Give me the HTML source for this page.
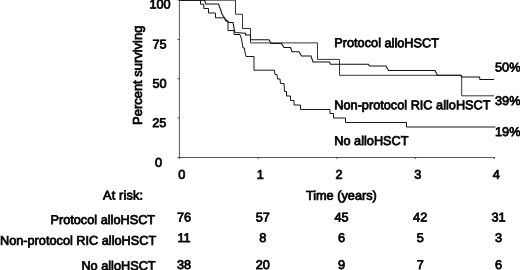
<!DOCTYPE html>
<html><head><meta charset="utf-8"><title>Survival</title>
<style>
html,body{margin:0;padding:0;background:#fff;}
body{width:520px;height:270px;overflow:hidden;position:relative;font-family:"Liberation Sans",Arial,sans-serif;font-size:12.72px;color:#000;}
.t{position:absolute;left:0;top:0;white-space:nowrap;line-height:1;-webkit-text-stroke:0.75px #000;transform-origin:0 0;}
svg{position:absolute;left:0;top:0;}
</style></head><body>
<svg width="520" height="270" viewBox="0 0 520 270" fill="none">
<g stroke="#444" stroke-width="0.9">
<path d="M179.4,0 V159"/>
<path d="M177.5,157.5 H494.6"/>
<path d="M177.5,0.2 H180 M177.5,39.5 H180 M177.5,78.8 H180 M177.5,117.8 H180"/>
<path d="M258.2,157 V159 M336.9,157 V159 M415.6,157 V159 M494.3,157 V159"/>
</g>
<path stroke="#2a2a2a" stroke-width="0.95" d="M179.5,0.2 H235.5 V14.2 H242.5 V28.5 H250.5 V42.9 H317.5 V59.4 H339.5 V75.3 H461.7 V95.8 H494"/>
<path stroke="#111" stroke-width="1.1" d="M179.5,0.2 H204.5 L206,4 H218.5 L220,8 L222,14 L224.5,18 L226.5,20.5 L229,22.5 H233 L234,28 L235,32.6 L245.5,33.3 V35 H250.5 V39.8 H269 L271,43.5 H281.5 L284,47.5 H290.5 L292,51.8 H299 L301.5,56 H311 L313,62 H329.5 L330.5,64.2 H368.5 L369.5,66 H386 L388.5,70.5 H435 L437.5,75.3 H460.5 L461.5,77 H479.5 L480,79.5 H494"/>
<path stroke="#161616" stroke-width="1" d="M179.5,0.2 H200.5 V4.2 H203.8 V8.5 H208.5 V13 H215.5 V17.8 H224.5 L225.5,21 H228 V30.5 H234 V34.5 H240 L241.5,39 L243,48 H244.5 L245,52 L246,56.5 H254 V70.2 H274.5 L275,74.5 H277 L277.5,79 H280 L280.5,83.5 H284 L284.5,91.5 H286.5 V96 H290.5 V100.5 H294 V105 H300.5 V109.5 H330 V113.5 H333.5 V118 H345.5 V122.5 H406.5 V127 H495.5"/>
</svg>
<div class="t" style="font-size:12.95px;transform:translate(132.3px,124.9px) rotate(-90deg)">Percent surviving</div>
<div class="t" style="transform:translate(160.1px,-1.6px) translateX(-50%) rotate(0.03deg);">100</div>
<div class="t" style="transform:translate(159.5px,38.6px) translateX(-50%) rotate(0.03deg);">75</div>
<div class="t" style="transform:translate(159.5px,77.8px) translateX(-50%) rotate(0.03deg);">50</div>
<div class="t" style="transform:translate(159.3px,117.0px) translateX(-50%) rotate(0.03deg);">25</div>
<div class="t" style="transform:translate(158.6px,156.8px) translateX(-50%) rotate(0.03deg);">0</div>
<div class="t" style="transform:translate(181.7px,168.8px) translateX(-50%) rotate(0.03deg);">0</div>
<div class="t" style="transform:translate(260.4px,168.8px) translateX(-50%) rotate(0.03deg);">1</div>
<div class="t" style="transform:translate(339.1px,168.8px) translateX(-50%) rotate(0.03deg);">2</div>
<div class="t" style="transform:translate(417.9px,168.8px) translateX(-50%) rotate(0.03deg);">3</div>
<div class="t" style="transform:translate(496.2px,168.8px) translateX(-50%) rotate(0.03deg);">4</div>
<div class="t" style="transform:translate(305.9px,189.7px) rotate(0.03deg);">Time (years)</div>
<div class="t" style="transform:translate(334.3px,37.1px) rotate(0.03deg);">Protocol alloHSCT</div>
<div class="t" style="transform:translate(334.3px,99.2px) rotate(0.03deg);">Non-protocol RIC alloHSCT</div>
<div class="t" style="transform:translate(334.3px,135.0px) rotate(0.03deg);">No alloHSCT</div>
<div class="t" style="transform:translate(495.0px,61.4px) rotate(0.03deg);">50%</div>
<div class="t" style="transform:translate(495.0px,95.1px) rotate(0.03deg);">39%</div>
<div class="t" style="transform:translate(495.0px,126.0px) rotate(0.03deg);">19%</div>
<div class="t" style="transform:translate(143.2px,189.6px) translateX(-100%) rotate(0.03deg);letter-spacing:0.15px">At risk:</div>
<div class="t" style="transform:translate(155.1px,213.9px) translateX(-100%) rotate(0.03deg);">Protocol alloHSCT</div>
<div class="t" style="transform:translate(156.2px,234.7px) translateX(-100%) rotate(0.03deg);">Non-protocol RIC alloHSCT</div>
<div class="t" style="transform:translate(155.6px,259.9px) translateX(-100%) rotate(0.03deg);">No alloHSCT</div>
<div class="t" style="transform:translate(184.0px,211.5px) translateX(-50%) rotate(0.03deg);">76</div>
<div class="t" style="transform:translate(262.8px,211.5px) translateX(-50%) rotate(0.03deg);">57</div>
<div class="t" style="transform:translate(341.5px,211.5px) translateX(-50%) rotate(0.03deg);">45</div>
<div class="t" style="transform:translate(420.2px,211.5px) translateX(-50%) rotate(0.03deg);">42</div>
<div class="t" style="transform:translate(498.5px,211.5px) translateX(-50%) rotate(0.03deg);">31</div>
<div class="t" style="transform:translate(184.0px,232.1px) translateX(-50%) rotate(0.03deg);">11</div>
<div class="t" style="transform:translate(262.8px,232.1px) translateX(-50%) rotate(0.03deg);">8</div>
<div class="t" style="transform:translate(341.5px,232.1px) translateX(-50%) rotate(0.03deg);">6</div>
<div class="t" style="transform:translate(420.2px,232.1px) translateX(-50%) rotate(0.03deg);">5</div>
<div class="t" style="transform:translate(498.5px,232.1px) translateX(-50%) rotate(0.03deg);">3</div>
<div class="t" style="transform:translate(184.0px,259.1px) translateX(-50%) rotate(0.03deg);">38</div>
<div class="t" style="transform:translate(262.8px,259.1px) translateX(-50%) rotate(0.03deg);">20</div>
<div class="t" style="transform:translate(341.5px,259.1px) translateX(-50%) rotate(0.03deg);">9</div>
<div class="t" style="transform:translate(420.2px,259.1px) translateX(-50%) rotate(0.03deg);">7</div>
<div class="t" style="transform:translate(498.5px,259.1px) translateX(-50%) rotate(0.03deg);">6</div>
</body></html>
